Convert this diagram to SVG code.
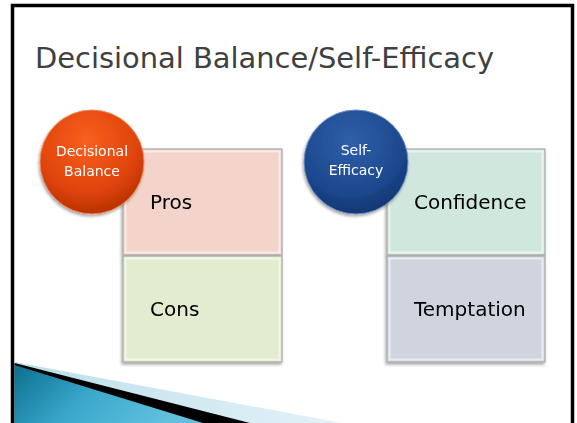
<svg xmlns="http://www.w3.org/2000/svg" width="577" height="423" viewBox="0 0 577 423">
<style>
.title{font-family:"DejaVu Sans","Liberation Sans",sans-serif;font-size:29px;fill:#404040}
.lbl{font-family:"DejaVu Sans","Liberation Sans",sans-serif;font-size:20px;fill:#000}
.clbl{font-family:"DejaVu Sans","Liberation Sans",sans-serif;font-size:14px;fill:#fff;text-anchor:middle}
.box{stroke:#a9a9a9;stroke-width:1.2}
.bev{fill:none;stroke:#ffffff;stroke-opacity:0.55;stroke-width:2}
</style>
<defs>
<radialGradient id="gOr" cx="0.45" cy="0.3" r="0.8">
<stop offset="0" stop-color="#f8601e"/>
<stop offset="0.6" stop-color="#e0440a"/>
<stop offset="1" stop-color="#a82a00"/>
</radialGradient>
<radialGradient id="gBl" cx="0.45" cy="0.3" r="0.8">
<stop offset="0" stop-color="#2f5fa8"/>
<stop offset="0.6" stop-color="#1d4a90"/>
<stop offset="1" stop-color="#0d2c64"/>
</radialGradient>
<linearGradient id="gWedge" x1="0" y1="0" x2="1" y2="0.3">
<stop offset="0" stop-color="#0b6f8f"/>
<stop offset="0.5" stop-color="#3aa8cc"/>
<stop offset="1" stop-color="#62c0dd"/>
</linearGradient>
<linearGradient id="gLight" x1="0" y1="0" x2="1" y2="0">
<stop offset="0" stop-color="#bcdfeb"/>
<stop offset="1" stop-color="#e4f2f7"/>
</linearGradient>
<filter id="sh" x="-20%" y="-20%" width="140%" height="140%">
<feDropShadow dx="-1" dy="2" stdDeviation="1.5" flood-color="#000" flood-opacity="0.35"/>
</filter>
</defs>
<rect x="0" y="0" width="577" height="423" fill="#fff"/>
<path d="M12.5 430 V5.5 H572.5 V430" fill="none" stroke="#000" stroke-width="3.5"/>
<text class="title" x="35" y="68" textLength="459" lengthAdjust="spacingAndGlyphs">Decisional Balance/Self-Efficacy</text>
<g id="wedge">
<polygon points="14.5,362 342,423 14.5,423" fill="url(#gLight)"/>
<polygon points="14.5,363 250,423 14.5,423" fill="#000"/>
<polygon points="14.5,365 203,423 14.5,423" fill="url(#gWedge)"/>
</g>
<g id="pros" filter="url(#sh)">
<rect class="box" x="123" y="149" width="159" height="106" fill="#f4d3cb"/>
<rect class="bev" x="125.5" y="151.5" width="154" height="101"/>
<text class="lbl" x="150" y="209">Pros</text>
</g>
<g id="cons" filter="url(#sh)">
<rect class="box" x="123" y="256" width="159" height="106" fill="#e3ecce"/>
<rect class="bev" x="125.5" y="258.5" width="154" height="101"/>
<text class="lbl" x="150" y="316">Cons</text>
</g>
<g id="confidence" filter="url(#sh)">
<rect class="box" x="387" y="149" width="158" height="106" fill="#cfe7dc"/>
<rect class="bev" x="389.5" y="151.5" width="153" height="101"/>
<text class="lbl" x="414" y="209">Confidence</text>
</g>
<g id="temptation" filter="url(#sh)">
<rect class="box" x="387" y="256" width="158" height="106" fill="#cfd4de"/>
<rect class="bev" x="389.5" y="258.5" width="153" height="101"/>
<text class="lbl" x="414" y="316">Temptation</text>
</g>
<g id="decisional-balance" filter="url(#sh)">
<circle cx="92" cy="162" r="52" fill="url(#gOr)" stroke="#f08a5a" stroke-width="1"/>
<text class="clbl" x="92" y="156">Decisional</text>
<text class="clbl" x="92" y="176">Balance</text>
</g>
<g id="self-efficacy" filter="url(#sh)">
<circle cx="356" cy="162" r="52" fill="url(#gBl)" stroke="#6d8fc4" stroke-width="1"/>
<text class="clbl" x="356" y="155">Self-</text>
<text class="clbl" x="356" y="175">Efficacy</text>
</g>
<g id="connectors"/>
</svg>
